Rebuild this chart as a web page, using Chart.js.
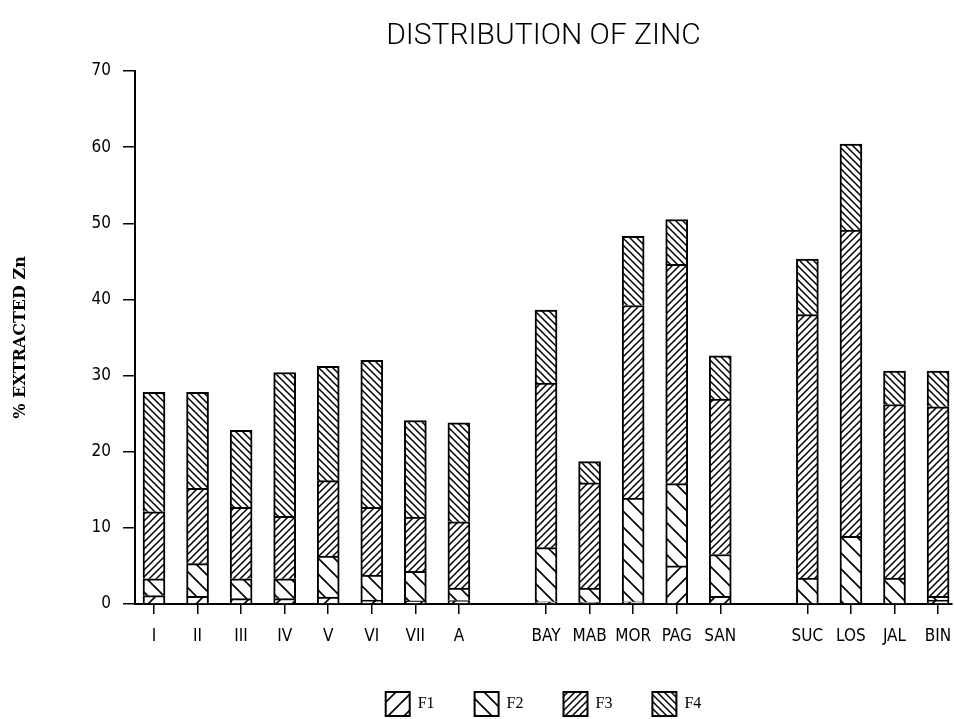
<!DOCTYPE html>
<html><head><meta charset="utf-8">
<script src="https://cdn.jsdelivr.net/npm/chart.js@4"></script>
<style>html,body{margin:0;padding:0;background:#fff}</style>
</head><body>
<canvas id="c" width="954" height="719"></canvas>
<script>
// Categories ('' = gap between groups)
const categories = ['I','II','III','IV','V','VI','VII','A','','BAY','MAB','MOR','PAG','SAN','','SUC','LOS','JAL','BIN'];
const seriesNames = ['F1','F2','F3','F4'];
// Values (% extracted Zn) for the non-gap categories, in order
const f1 = [1.1, 1.0, 0.7, 0.7, 0.9, 0.5, 0.4, 0.45, 0.3, 0.2, 0.3, 5.0, 1.0, 0, 0, 0, 0.5];
const f2 = [2.2, 4.3, 2.6, 2.6, 5.4, 3.3, 3.9, 1.65, 7.1, 1.9, 13.6, 10.8, 5.5, 3.4, 8.9, 3.4, 0.5];
const f3 = [8.8, 9.9, 9.4, 8.2, 9.9, 8.9, 7.1, 8.7, 21.6, 13.8, 25.3, 28.8, 20.4, 34.6, 40.2, 22.8, 24.9];
const f4 = [15.7, 12.6, 10.1, 18.9, 15.0, 19.3, 12.7, 13.0, 9.6, 2.8, 9.1, 5.9, 5.7, 7.3, 11.3, 4.4, 4.7];
const yTicks = [0, 10, 20, 30, 40, 50, 60, 70];

const positions = categories.map((c, i) => c === '' ? null : i).filter(v => v !== null);

function makePattern(size, dir, lw) {
  const cv = document.createElement('canvas');
  cv.width = size; cv.height = size;
  const g = cv.getContext('2d');
  g.fillStyle = '#fff'; g.fillRect(0, 0, size, size);
  g.strokeStyle = '#000'; g.lineWidth = lw; g.lineCap = 'square';
  g.beginPath();
  if (dir === '/') {
    g.moveTo(0, size); g.lineTo(size, 0);
    g.moveTo(-1, 1); g.lineTo(1, -1);
    g.moveTo(size - 1, size + 1); g.lineTo(size + 1, size - 1);
  } else {
    g.moveTo(0, 0); g.lineTo(size, size);
    g.moveTo(-1, size - 1); g.lineTo(1, size + 1);
    g.moveTo(size - 1, -1); g.lineTo(size + 1, 1);
  }
  g.stroke();
  return g.createPattern(cv, 'repeat');
}
const ctx = document.getElementById('c').getContext('2d');
const fills = [makePattern(16, '/', 1.6), makePattern(16, '\\', 1.6), makePattern(7, '/', 1.5), makePattern(7, '\\', 1.5)];
const vals = [f1, f2, f3, f4];

const datasets = seriesNames.map((name, k) => ({
  label: name,
  data: vals[k].map((v, j) => ({x: positions[j], y: v})),
  backgroundColor: fills[k],
  borderColor: '#000',
  borderWidth: 2,
  barThickness: 22
}));

const tickFont = {family: "'DejaVu Sans Condensed', 'Liberation Sans Narrow', Roboto, sans-serif", size: 17};

new Chart(ctx, {
  type: 'bar',
  data: {datasets},
  options: {
    responsive: false,
    animation: false,
    layout: {padding: {top: 0, right: 2, bottom: -7, left: 0}},
    plugins: {
      tooltip: {enabled: false},
      title: {
        display: true, text: 'DISTRIBUTION OF ZINC', color: '#000', fullSize: false,
        font: {family: "Roboto, 'Liberation Sans', sans-serif", size: 30, weight: 300},
        padding: {top: 18, bottom: 17}
      },
      legend: {
        position: 'bottom', fullSize: false,
        labels: {
          boxWidth: 24, boxHeight: 24, padding: 40, color: '#000',
          font: {family: "'Liberation Serif', serif", size: 16}
        }
      }
    },
    scales: {
      x: {
        type: 'linear', stacked: true, min: -0.436, max: 18.32, offset: false,
        afterBuildTicks: s => { s.ticks = positions.map(v => ({value: v})); },
        afterFit: s => { s.height = 48; s.paddingLeft = 0; s.paddingRight = 0; },
        ticks: {
          autoSkip: false, maxRotation: 0, color: '#000', font: tickFont, padding: 12,
          callback: v => categories[v]
        },
        grid: {drawOnChartArea: false, offset: false, color: '#000', tickLength: 10, lineWidth: 1.5},
        border: {color: '#000', width: 2}
      },
      y: {
        stacked: true, min: 0, max: 70,
        afterBuildTicks: s => { s.ticks = yTicks.map(v => ({value: v})); },
        afterFit: s => { s.width = 135; },
        ticks: {color: '#000', font: tickFont, padding: 12},
        grid: {drawOnChartArea: false, color: '#000', tickLength: 12, lineWidth: 1.5},
        border: {color: '#000', width: 2},
        title: {
          display: true, text: '% EXTRACTED Zn', color: '#000',
          font: {family: "'DejaVu Serif', serif", size: 16, weight: 'bold'},
          padding: {top: 11, bottom: 0}
        }
      }
    }
  }
});
</script>
</body></html>
